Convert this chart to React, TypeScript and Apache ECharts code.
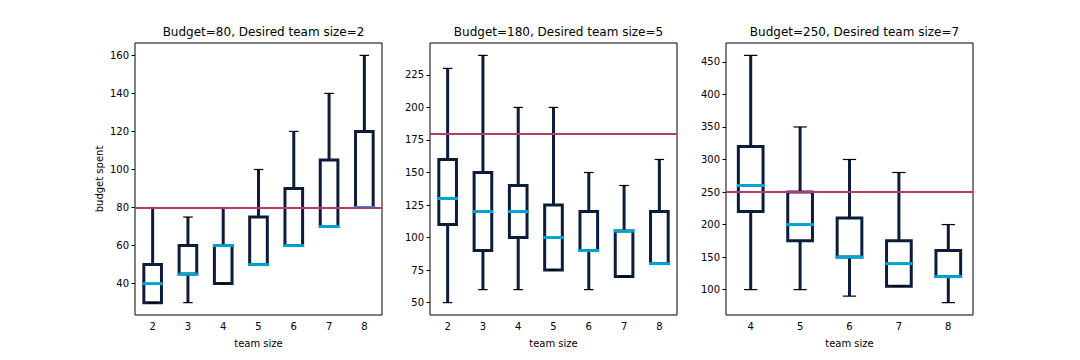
import React, { useEffect, useRef } from "react";
import * as echarts from "echarts";

// ---------- data ----------
const titles = [
  "Budget=80, Desired team size=2",
  "Budget=180, Desired team size=5",
  "Budget=250, Desired team size=7",
];
const budgets = [80, 180, 250];

const cats1 = ["2", "3", "4", "5", "6", "7", "8"];
const cats2 = ["2", "3", "4", "5", "6", "7", "8"];
const cats3 = ["4", "5", "6", "7", "8"];

// [min, q1, median, q3, max]
const stats1 = [
  [30, 30, 40, 50, 80],
  [30, 45, 45, 60, 75],
  [40, 40, 60, 60, 80],
  [50, 50, 50, 75, 100],
  [60, 60, 60, 90, 120],
  [70, 70, 70, 105, 140],
  [80, 80, 80, 120, 160],
];
const stats2 = [
  [50, 110, 130, 160, 230],
  [60, 90, 120, 150, 240],
  [60, 100, 120, 140, 200],
  [75, 75, 100, 125, 200],
  [60, 90, 90, 120, 150],
  [70, 70, 105, 105, 140],
  [80, 80, 80, 120, 160],
];
const stats3 = [
  [100, 220, 260, 320, 460],
  [100, 175, 200, 250, 350],
  [90, 150, 150, 210, 300],
  [105, 105, 140, 175, 280],
  [80, 120, 120, 160, 200],
];

const ticks1 = [40, 60, 80, 100, 120, 140, 160];
const ticks2 = [50, 75, 100, 125, 150, 175, 200, 225];
const ticks3 = [100, 150, 200, 250, 300, 350, 400, 450];

const NAVY = "#0b1d3a";
const CYAN = "#00a3d6";
const MAGENTA = "#b5397a";
const FONT = "DejaVu Sans";

function padRange(stats: number[][]) {
  let lo = Infinity;
  let hi = -Infinity;
  stats.forEach((s) => {
    lo = Math.min(lo, ...s);
    hi = Math.max(hi, ...s);
  });
  const m = (hi - lo) * 0.05;
  return [lo - m, hi + m];
}

const renderBox = (params: any, api: any) => {
  const idx = api.value(0);
  const mn = api.value(1);
  const q1 = api.value(2);
  const med = api.value(3);
  const q3 = api.value(4);
  const mx = api.value(5);
  const band = api.size([1, 0])[0];
  const [cx, yMin] = api.coord([idx, mn]);
  const yQ1 = api.coord([idx, q1])[1];
  const yMed = api.coord([idx, med])[1];
  const yQ3 = api.coord([idx, q3])[1];
  const yMax = api.coord([idx, mx])[1];
  const half = band * 0.25;
  const cap = band * 0.135;
  const lw = 3;
  const children: any[] = [
    {
      type: "line",
      shape: { x1: cx, y1: yQ1, x2: cx, y2: yMin },
      style: { stroke: NAVY, lineWidth: lw },
    },
    {
      type: "line",
      shape: { x1: cx, y1: yQ3, x2: cx, y2: yMax },
      style: { stroke: NAVY, lineWidth: lw },
    },
    {
      type: "rect",
      shape: { x: cx - half, y: yQ3, width: half * 2, height: yQ1 - yQ3 },
      style: { stroke: NAVY, lineWidth: lw, fill: "none" },
    },
    {
      type: "line",
      shape: { x1: cx - cap, y1: yMin, x2: cx + cap, y2: yMin },
      style: { stroke: "#000", lineWidth: 1.2 },
    },
    {
      type: "line",
      shape: { x1: cx - cap, y1: yMax, x2: cx + cap, y2: yMax },
      style: { stroke: "#000", lineWidth: 1.2 },
    },
    {
      type: "line",
      shape: { x1: cx - half - 1.5, y1: yMed, x2: cx + half + 1.5, y2: yMed },
      style: { stroke: CYAN, lineWidth: lw },
    },
  ];
  return { type: "group", children };
};

export default function App() {
  const ref = useRef<HTMLDivElement>(null);
  useEffect(() => {
    document.body.style.margin = "0";
    if (!ref.current) return;
    const chart = echarts.init(ref.current, undefined, { renderer: "svg" });
    const cats = [cats1, cats2, cats3];
    const stats = [stats1, stats2, stats3];
    const ticks = [ticks1, ticks2, ticks3];
    const lefts = [135, 430, 726];
    const W = 247;
    const grids = lefts.map((l) => ({
      left: l,
      top: 43,
      width: W,
      height: 272,
      show: true,
      borderColor: "#000",
      borderWidth: 1,
      backgroundColor: "#fff",
    }));
    const labelStyle = { fontFamily: FONT, fontSize: 10, color: "#000" };
    const xAxes = cats.map((c, i) => ({
      type: "category",
      gridIndex: i,
      data: c,
      boundaryGap: true,
      name: "team size",
      nameLocation: "middle",
      nameGap: 23,
      nameTextStyle: { fontFamily: FONT, fontSize: 10, color: "#000" },
      axisLine: { show: false },
      axisTick: { alignWithLabel: true, length: 3.5, lineStyle: { color: "#000" } },
      axisLabel: { ...labelStyle, margin: 6 },
      splitLine: { show: false },
    }));
    const yAxes = stats.map((s, i) => {
      const [lo, hi] = padRange(s);
      return {
        type: "value",
        gridIndex: i,
        min: lo,
        max: hi,
        name: i === 0 ? "budget spent" : "",
        nameLocation: "middle",
        nameGap: 31,
        nameTextStyle: { fontFamily: FONT, fontSize: 10, color: "#000" },
        axisLine: { show: false },
        axisTick: {
          show: true,
          length: 3.5,
          lineStyle: { color: "#000" },
          customValues: ticks[i],
        },
        axisLabel: { ...labelStyle, margin: 6, customValues: ticks[i] },
        splitLine: { show: false },
      };
    });
    const series: any[] = [];
    stats.forEach((s, i) => {
      series.push({
        type: "custom",
        xAxisIndex: i,
        yAxisIndex: i,
        renderItem: renderBox,
        data: s.map((row, k) => [k, ...row]),
        encode: { x: 0, y: [1, 2, 3, 4, 5] },
        z: 2,
        silent: true,
      });
      series.push({
        type: "line",
        xAxisIndex: i,
        yAxisIndex: i,
        data: [],
        z: 3,
        silent: true,
        markLine: {
          silent: true,
          symbol: "none",
          label: { show: false },
          lineStyle: { color: MAGENTA, width: 2, type: "solid" },
          data: [{ yAxis: budgets[i] }],
          z: 3,
        },
      });
    });
    chart.setOption({
      animation: false,
      backgroundColor: "#fff",
      title: titles.map((t, i) => ({
        text: t,
        left: lefts[i] + W / 2,
        top: 21,
        textAlign: "center",
        textStyle: { fontFamily: FONT, fontSize: 12, fontWeight: "normal", color: "#000" },
      })),
      grid: grids,
      xAxis: xAxes,
      yAxis: yAxes,
      series,
    });
    return () => chart.dispose();
  }, []);
  return <div ref={ref} style={{ width: 1080, height: 360 }} />;
}
